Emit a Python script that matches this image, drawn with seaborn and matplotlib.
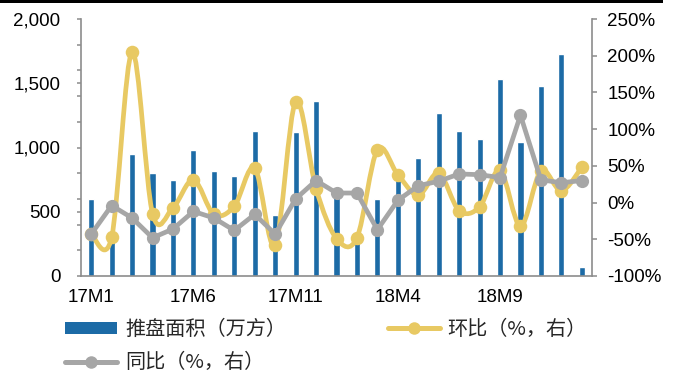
import numpy as np
import pandas as pd
import matplotlib
matplotlib.use("Agg")
import matplotlib.pyplot as plt
from matplotlib.path import Path
from matplotlib.patches import PathPatch, Rectangle, Patch
from matplotlib.lines import Line2D
from matplotlib.ticker import FuncFormatter, MultipleLocator
import seaborn as sns

# Monthly launched floor area (10k m2) with MoM and YoY changes (%)
months = ["17M1", "17M2", "17M3", "17M4", "17M5", "17M6", "17M7", "17M8", "17M9",
          "17M10", "17M11", "17M12", "18M1", "18M2", "18M3", "18M4", "18M5", "18M6",
          "18M7", "18M8", "18M9", "18M10", "18M11", "18M12", "19M1"]
area = [600, 290, 950, 805, 750, 980, 815, 775, 1130, 475, 1120, 1360, 620,
        290, 600, 750, 920, 1265, 1130, 1070, 1530, 1040, 1480, 1730, 70]
mom = [-43, -47, 205, -15, -7, 31, -16, -5, 47, -58, 137, 19, -49,
       -48, 72, 38, 10, 40, -11, -6, 44, -32, 43, 16, 48]
yoy = [-43, -4, -21, -48, -36, -12, -21, -38, -16, -43, 5, 30, 13,
       13, -37, 3, 23, 29, 39, 38, 34, 119, 31, 27, 30]
tick_months = ["17M1", "17M6", "17M11", "18M4", "18M9"]

label_area = "推盘面积（万方）"
label_mom = "环比（%，右）"
label_yoy = "同比（%，右）"

BLUE = "#1C6BA6"
YELLOW = "#E8C963"
GREY = "#A6A6A6"
AXIS = "#8C8C8C"

sns.set_style("white")
plt.rcParams["font.family"] = ["Liberation Sans", "Noto Sans CJK SC", "DejaVu Sans"]

df = pd.DataFrame({"month": months, "area": area, "mom": mom, "yoy": yoy})
df["pos"] = np.arange(len(df))

fig = plt.figure(figsize=(6.76, 3.76), dpi=100)
ax = fig.add_axes([81 / 676, 1 - 276 / 376, (592 - 81) / 676, (276 - 19) / 376])

sns.barplot(data=df, x="month", y="area", color=BLUE, saturation=1, width=0.3,
            ax=ax, zorder=2)
ax.set_xlim(-0.5, len(df) - 0.5)
ax.set_ylim(0, 2000)
ax.yaxis.set_major_locator(MultipleLocator(500))
ax.yaxis.set_minor_locator(MultipleLocator(200))
ax.yaxis.set_major_formatter(FuncFormatter(lambda v, p: f"{int(v):,}"))
ax.set_xticks([months.index(m) for m in tick_months])
ax.set_xticklabels(tick_months)
ax.set_xlabel("")
ax.set_ylabel("")

ax2 = ax.twinx()
ax2.set_ylim(-100, 250)
ax2.yaxis.set_major_locator(MultipleLocator(50))
ax2.yaxis.set_major_formatter(FuncFormatter(lambda v, p: f"{int(v)}%"))

# MoM: smoothed curve through the points (cubic Bezier, Catmull-Rom style)
x = df["pos"].to_numpy(dtype=float)
y = df["mom"].to_numpy(dtype=float)
pts = np.column_stack([x, y])
verts = [pts[0]]
codes = [Path.MOVETO]
n = len(pts)
for i in range(n - 1):
    p0 = pts[i - 1] if i > 0 else pts[i]
    p1 = pts[i]
    p2 = pts[i + 1]
    p3 = pts[i + 2] if i + 2 < n else pts[i + 1]
    c1 = p1 + (p2 - p0) / 6.0
    c2 = p2 - (p3 - p1) / 6.0
    verts += [c1, c2, p2]
    codes += [Path.CURVE4] * 3
ax2.add_patch(PathPatch(Path(verts, codes), facecolor="none", edgecolor=YELLOW,
                        lw=3.4, capstyle="round", joinstyle="round", zorder=3))
sns.scatterplot(data=df, x="pos", y="mom", color=YELLOW, s=95, linewidth=0,
                ax=ax2, zorder=4)

# YoY: straight segments with markers
sns.lineplot(data=df, x="pos", y="yoy", color=GREY, lw=3.4, marker="o",
             markersize=9.5, markeredgewidth=0, ax=ax2, zorder=5)
ax2.set_xlabel("")
ax2.set_ylabel("")
ax2.set_xlim(-0.5, len(df) - 0.5)

for a in (ax, ax2):
    a.spines["top"].set_visible(False)
    for s in ("left", "right", "bottom"):
        a.spines[s].set_color(AXIS)
        a.spines[s].set_linewidth(1.2)
    a.grid(False)
    a.set_facecolor("none")
ax.spines["right"].set_visible(False)
ax2.spines["left"].set_visible(False)
ax2.spines["bottom"].set_visible(False)

ax.tick_params(axis="y", which="both", direction="out", length=3.2, width=1.1,
               color=AXIS, left=True, labelsize=13.5, pad=11.5, labelcolor="black")
ax.tick_params(axis="x", which="both", length=0, labelsize=13.5, pad=9.5,
               labelcolor="black")
ax2.tick_params(axis="y", direction="out", length=3.6, width=1.1, color=AXIS,
                right=True, labelsize=13.5, pad=7.5, labelcolor="black")

# Legend below the plot
handles = [
    Patch(facecolor=BLUE, edgecolor="none", label=label_area),
    Line2D([0], [0], color=GREY, lw=3.6, marker="o", markersize=9,
           markeredgewidth=0, label=label_yoy),
    Line2D([0], [0], color=YELLOW, lw=3.6, marker="o", markersize=9,
           markeredgewidth=0, label=label_mom),
]
fig.legend(handles=handles, ncol=2, loc="upper left",
           bbox_to_anchor=(65 / 676, 1 - 319 / 376), frameon=False,
           prop={"family": ["Noto Sans CJK SC", "DejaVu Sans"], "size": 14.5},
           handlelength=2.58, handleheight=0.52, handletextpad=0.4,
           columnspacing=5.05, labelspacing=0.6, borderpad=0, borderaxespad=0)

# Black rule along the top edge
fig.add_artist(Rectangle((0, 1 - 3 / 376), 663 / 676, 3 / 376,
                         transform=fig.transFigure, facecolor="black",
                         edgecolor="none"))

fig.savefig("out.png", dpi=100)
